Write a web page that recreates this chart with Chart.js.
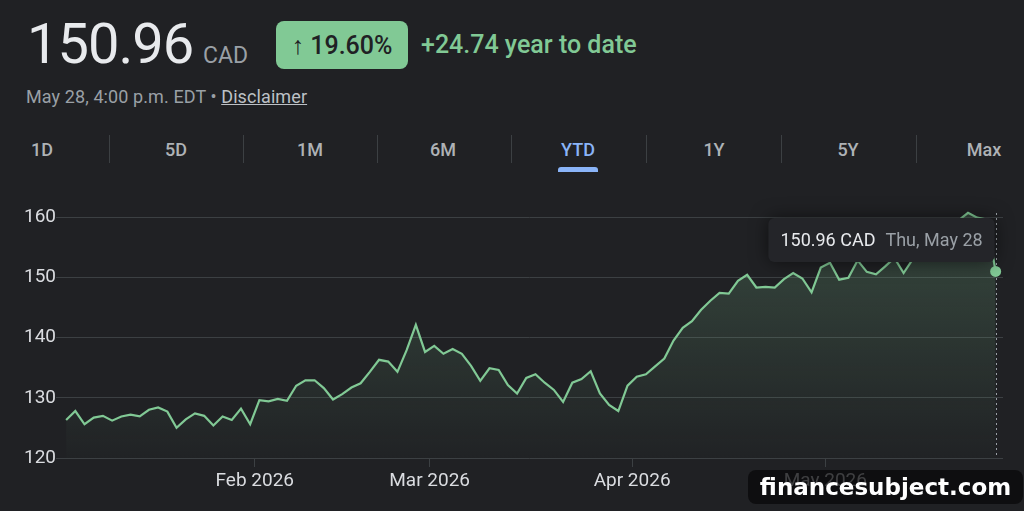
<!DOCTYPE html>
<html>
<head>
<meta charset="utf-8">
<script src="https://cdn.jsdelivr.net/npm/chart.js@4.4.1/dist/chart.umd.min.js"></script>
<style>
  html, body { margin: 0; padding: 0; background: #202124; width: 1024px; height: 511px; overflow: hidden; font-family: Roboto, Arial, sans-serif; }
  #wrap { position: relative; width: 1024px; height: 511px; }
  .abs { position: absolute; white-space: nowrap; }
  #price { left: 27px; top: 16px; font-size: 56px; line-height: 56px; color: #e8eaed; letter-spacing: -1px; }
  #cur { left: 203px; top: 44px; font-size: 23px; line-height: 23px; color: #9aa0a6; }
  #badge { left: 276px; top: 21px; width: 132px; height: 48px; border-radius: 8px; background: #81c995; color: #202124;
           font-size: 25px; font-weight: 500; display: flex; align-items: center; justify-content: center; }
  #ytd { left: 421px; top: 21px; height: 48px; line-height: 48px; font-size: 25px; font-weight: 500; color: #81c995; }
  #sub { left: 26px; top: 88px; font-size: 18px; line-height: 18px; color: #9aa0a6; letter-spacing: 0.1px; }
  #sub u { color: #bdc1c6; }
  .tab { top: 138px; height: 24px; line-height: 24px; font-size: 18px; font-weight: 500; color: #aeb2b6; transform: translateX(-50%); }
  .tab.on { color: #8ab4f8; }
  .sep { top: 135px; width: 1px; height: 28px; background: #3c4043; }
  #ind { left: 558px; top: 167px; width: 40px; height: 5px; border-radius: 3px 3px 0 0; background: #8ab4f8; }
  #box { position: absolute; left: 0; top: 195px; width: 1024px; height: 316px; }
  #mark { left: 748px; top: 470px; width: 275px; height: 34px; border-radius: 8px; background: rgba(8,8,10,0.74);
          color: #fff; font-family: "DejaVu Sans", sans-serif; font-weight: bold; font-size: 23px;
          display: flex; align-items: center; justify-content: center; }
</style>
</head>
<body>
<div id="wrap">
  <div class="abs" id="price">150.96</div>
  <div class="abs" id="cur">CAD</div>
  <div class="abs" id="badge">↑ 19.60%</div>
  <div class="abs" id="ytd">+24.74 year to date</div>
  <div class="abs" id="sub">May 28, 4:00 p.m. EDT • <u>Disclaimer</u></div>
  <div id="tabs"></div>
  <div class="abs" id="ind"></div>
  <div id="box"><canvas id="chart"></canvas></div>
  <div class="abs" id="mark">financesubject.com</div>
</div>

<script>
// --- dados ---
const tradeDays = [
  '01-02','01-05','01-06','01-07','01-08','01-09','01-12','01-13','01-14','01-15','01-16',
  '01-19','01-20','01-21','01-22','01-23','01-26','01-27','01-28','01-29','01-30',
  '02-02','02-03','02-04','02-05','02-06','02-09','02-10','02-11','02-12','02-13',
  '02-17','02-18','02-19','02-20','02-23','02-24','02-25','02-26','02-27',
  '03-02','03-03','03-04','03-05','03-06','03-09','03-10','03-11','03-12','03-13',
  '03-16','03-17','03-18','03-19','03-20','03-23','03-24','03-25','03-26','03-27','03-30','03-31',
  '04-01','04-02','04-06','04-07','04-08','04-09','04-10','04-13','04-14','04-15','04-16','04-17',
  '04-20','04-21','04-22','04-23','04-24','04-27','04-28','04-29','04-30',
  '05-01','05-04','05-05','05-06','05-07','05-08','05-11','05-12','05-13','05-14','05-15',
  '05-19','05-20','05-21','05-22','05-25','05-26','05-27','05-28'
];
const closes = [
  126.3, 127.8, 125.6, 126.7, 127.0, 126.2, 126.9, 127.2, 126.9, 128.0, 128.4,
  127.7, 125.0, 126.4, 127.4, 127.0, 125.4, 126.9, 126.3, 128.2, 125.6,
  129.6, 129.4, 129.8, 129.5, 132.0, 132.9, 132.9, 131.6, 129.7, 130.6,
  131.7, 132.4, 134.3, 136.3, 136.0, 134.3, 137.9, 142.1, 137.6,
  138.6, 137.3, 138.1, 137.3, 135.3, 132.8, 134.9, 134.6, 132.1, 130.7,
  133.3, 133.9, 132.5, 131.3, 129.3, 132.5, 133.1, 134.4, 130.7, 128.8, 127.8, 132.0,
  133.5, 133.9, 135.2, 136.5, 139.5, 141.6, 142.7, 144.6, 146.1, 147.4, 147.3, 149.4,
  150.4, 148.3, 148.4, 148.3, 149.7, 150.7, 149.8, 147.5, 151.6,
  152.4, 149.6, 149.9, 152.8, 150.9, 150.5, 151.8, 153.2, 150.7, 153.0,
  154.6, 155.8, 157.2, 158.3, 159.5, 160.7, 159.9, 159.6, 150.96
];
const yTicks = [120, 130, 140, 150, 160];
const xTickLabels = ['Feb 2026', 'Mar 2026', 'Apr 2026', 'May 2026'];
const tabs = ['1D', '5D', '1M', '6M', 'YTD', '1Y', '5Y', 'Max'];
const currency = 'CAD';
const year = 2026;

// --- abas do topo ---
const tabCenters = [42, 176, 310, 443, 578, 714, 848, 984];
const tabsEl = document.getElementById('tabs');
tabs.forEach((t, i) => {
  const d = document.createElement('div');
  d.className = 'abs tab' + (t === 'YTD' ? ' on' : '');
  d.style.left = tabCenters[i] + 'px';
  d.textContent = t;
  tabsEl.appendChild(d);
  if (i > 0) {
    const s = document.createElement('div');
    s.className = 'abs sep';
    s.style.left = Math.round((tabCenters[i - 1] + tabCenters[i]) / 2) + 'px';
    tabsEl.appendChild(s);
  }
});

// ticks do eixo x: entre o último pregão de um mês e o primeiro do seguinte
const monthTicks = [];
for (let i = 1; i < tradeDays.length; i++) {
  if (tradeDays[i].slice(0, 2) !== tradeDays[i - 1].slice(0, 2)) monthTicks.push(i - 0.5);
}

const last = closes.length - 1;
const GREEN = '#81c995';

// linha pontilhada + tooltip fixo no último ponto
const markerPlugin = {
  id: 'marker',
  beforeDatasetsDraw(chart) {
    const pt = chart.getDatasetMeta(0).data[last];
    const area = chart.chartArea;
    const ctx = chart.ctx;
    ctx.save();
    ctx.strokeStyle = '#9aa0a6';
    ctx.lineWidth = 1;
    ctx.setLineDash([2, 3]);
    ctx.beginPath();
    ctx.moveTo(Math.round(pt.x) + 0.5, area.top + 2);
    ctx.lineTo(Math.round(pt.x) + 0.5, area.bottom);
    ctx.stroke();
    ctx.restore();
  },
  afterDraw(chart) {
    const pt = chart.getDatasetMeta(0).data[last];
    const area = chart.chartArea;
    const ctx = chart.ctx;
    const md = tradeDays[last].split('-');
    const dateTxt = new Date(year, +md[0] - 1, +md[1])
      .toLocaleDateString('en-US', { weekday: 'short', month: 'short', day: 'numeric' });
    const valTxt = closes[last].toFixed(2) + ' ' + currency;

    ctx.save();
    ctx.font = '18px Roboto';
    const w1 = ctx.measureText(valTxt).width;
    const w2 = ctx.measureText(dateTxt).width;
    const w = 12 + w1 + 10 + w2 + 12;
    const h = 44;
    const right = pt.x - 1;
    const left = right - w;
    const top = area.top + 7;

    ctx.shadowColor = 'rgba(0,0,0,0.55)';
    ctx.shadowBlur = 18;
    ctx.fillStyle = '#242529';
    ctx.beginPath();
    ctx.roundRect(left, top, w, h, 6);
    ctx.fill();
    ctx.shadowColor = 'transparent';

    ctx.textBaseline = 'middle';
    ctx.fillStyle = '#e8eaed';
    ctx.fillText(valTxt, left + 12, top + h / 2 + 1);
    ctx.fillStyle = '#9aa0a6';
    ctx.fillText(dateTxt, left + 12 + w1 + 10, top + h / 2 + 1);
    ctx.restore();
  }
};

Chart.defaults.font.family = 'Roboto';

new Chart(document.getElementById('chart'), {
  type: 'line',
  data: {
    datasets: [{
      data: closes.map((v, i) => ({ x: i, y: v })),
      borderColor: GREEN,
      borderWidth: 2.2,
      tension: 0,
      fill: 'start',
      backgroundColor: function (context) {
        const area = context.chart.chartArea;
        if (!area) return 'rgba(129,201,149,0.1)';
        const g = context.chart.ctx.createLinearGradient(0, area.top, 0, area.bottom);
        g.addColorStop(0, 'rgba(129,201,149,0.24)');
        g.addColorStop(1, 'rgba(129,201,149,0.01)');
        return g;
      },
      pointRadius: ctx => (ctx.dataIndex === last ? 5.5 : 0),
      pointBackgroundColor: GREEN,
      pointBorderWidth: 0
    }]
  },
  options: {
    responsive: true,
    maintainAspectRatio: false,
    animation: false,
    layout: { padding: { top: 16, right: 21, left: 0, bottom: 0 } },
    plugins: { legend: { display: false }, tooltip: { enabled: false } },
    scales: {
      x: {
        type: 'linear',
        min: -1.1,
        max: last + 0.8,
        afterBuildTicks: s => { s.ticks = monthTicks.map(v => ({ value: v })); },
        afterFit: s => { s.height = 53; },
        border: { display: false },
        grid: { drawOnChartArea: false, drawTicks: true, tickLength: 9, color: '#3c4043' },
        ticks: {
          autoSkip: false,
          maxRotation: 0,
          padding: 3,
          color: '#dadce0',
          font: { size: 19 },
          callback: (v) => xTickLabels[monthTicks.indexOf(v)]
        }
      },
      y: {
        min: yTicks[0],
        max: 161,
        afterBuildTicks: s => { s.ticks = yTicks.map(v => ({ value: v })); },
        afterFit: s => { s.width = 56; },
        border: { display: false },
        grid: { color: '#3c4043', drawTicks: false },
        ticks: { padding: 0, color: '#dadce0', font: { size: 19 } }
      }
    }
  },
  plugins: [markerPlugin]
});
</script>
</body>
</html>
